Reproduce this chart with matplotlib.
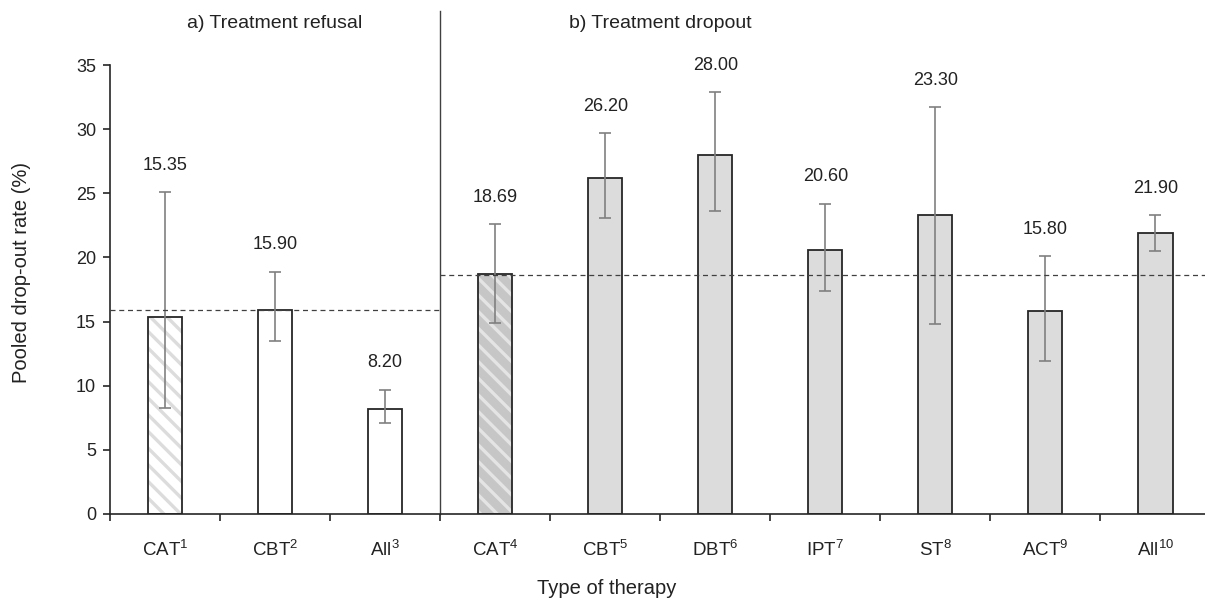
import matplotlib
matplotlib.use("Agg")
import matplotlib.pyplot as plt
import numpy as np

plt.rcParams["font.family"] = ["Liberation Sans", "DejaVu Sans"]
plt.rcParams["mathtext.fontset"] = "custom"
plt.rcParams["mathtext.rm"] = "Liberation Sans"
plt.rcParams["hatch.linewidth"] = 2.4

# données
therapies = ["CAT", "CBT", "All", "CAT", "CBT", "DBT", "IPT", "ST", "ACT", "All"]
refs = [1, 2, 3, 4, 5, 6, 7, 8, 9, 10]
rates = [15.35, 15.90, 8.20, 18.69, 26.20, 28.00, 20.60, 23.30, 15.80, 21.90]
ci_low = [8.3, 13.5, 7.1, 14.9, 23.1, 23.6, 17.4, 14.8, 11.9, 20.5]
ci_high = [25.1, 18.9, 9.7, 22.6, 29.7, 32.9, 24.2, 31.7, 20.1, 23.3]
panel = ["refusal"] * 3 + ["dropout"] * 7
pooled_refusal = 15.9
pooled_dropout = 18.6

dark = "#262626"
x = np.arange(len(rates))
rates_a = np.array(rates)
err = [rates_a - np.array(ci_low), np.array(ci_high) - rates_a]

faces = ["white" if p == "refusal" else "#dcdcdc" for p in panel]
hatches = ["\\\\" if t == "CAT" else "" for t in therapies]
hatch_cols = []
for f, h in zip(faces, hatches):
    if h and f == "white":
        hatch_cols.append("#dcdcdc")
    elif h:
        hatch_cols.append("#e4e4e4")
    else:
        hatch_cols.append(f)
faces = ["#c6c6c6" if (h and f != "white") else f for f, h in zip(faces, hatches)]

fig = plt.figure(figsize=(12.05, 6.04), dpi=100)
ax = fig.add_axes([110 / 1205, 90 / 604, 1095 / 1205, 449 / 604])

w = 0.31
bars = ax.bar(x, rates, width=w, color=faces, linewidth=0, zorder=2)
for b, h, hc in zip(bars, hatches, hatch_cols):
    if h:
        b.set_hatch(h)
        b.set_edgecolor(hc)
        b.set_linewidth(0)
ax.bar(x, rates, width=w, fill=False, edgecolor=dark, linewidth=1.3, zorder=3)

ax.errorbar(x, rates, yerr=err, fmt="none", ecolor="#808080", elinewidth=1.2,
            capsize=4, capthick=1.2, zorder=4)

# valeurs au-dessus des barres
for xi, r, hi in zip(x, rates, ci_high):
    ax.text(xi, hi + 2.1, f"{r:.2f}", ha="center", va="center", fontsize=13,
            color="#222222")

# lignes moyennes
ax.plot([-0.5, 2.5], [pooled_refusal] * 2, color="#404040", lw=0.9,
        ls=(0, (4, 3)), zorder=5)
ax.plot([2.5, 9.45], [pooled_dropout] * 2, color="#404040", lw=0.9,
        ls=(0, (4, 3)), zorder=5)

# séparation des deux panneaux
ax.plot([2.5, 2.5], [0, 39.2], color="#404040", lw=1.0, clip_on=False, zorder=1)

ax.text(1, 38.2, "a) Treatment refusal", ha="center", va="center", fontsize=14,
        color="#222222")
ax.text(4.5, 38.2, "b) Treatment dropout", ha="center", va="center", fontsize=14,
        color="#222222")

ax.set_xlim(-0.5, 9.45)
ax.set_ylim(0, 35)
ax.set_yticks(np.arange(0, 36, 5))

labels = [f"{t}$^{{\\mathregular{{{n}}}}}$" for t, n in zip(therapies, refs)]
ax.set_xticks(x, labels)
ax.set_xticks(np.arange(-0.5, 9.5, 1), minor=True)
ax.tick_params(axis="x", which="major", length=0, pad=18, labelsize=13.5,
               labelcolor="#222222")
ax.tick_params(axis="x", which="minor", length=5, width=1.2, color=dark)
ax.tick_params(axis="y", length=5, width=1.2, color=dark, pad=5, labelsize=13,
               labelcolor="#222222")

for s in ["top", "right"]:
    ax.spines[s].set_visible(False)
for s in ["left", "bottom"]:
    ax.spines[s].set_color(dark)
    ax.spines[s].set_linewidth(1.2)

fig.text(22 / 1205, 1 - 272 / 604, "Pooled drop-out rate (%)", rotation=90,
         ha="center", va="center", fontsize=14.5, color="#222222")
fig.text(607 / 1205, 1 - 588 / 604, "Type of therapy", ha="center", va="center",
         fontsize=14.5, color="#222222")

fig.savefig("out.png", dpi=100)
